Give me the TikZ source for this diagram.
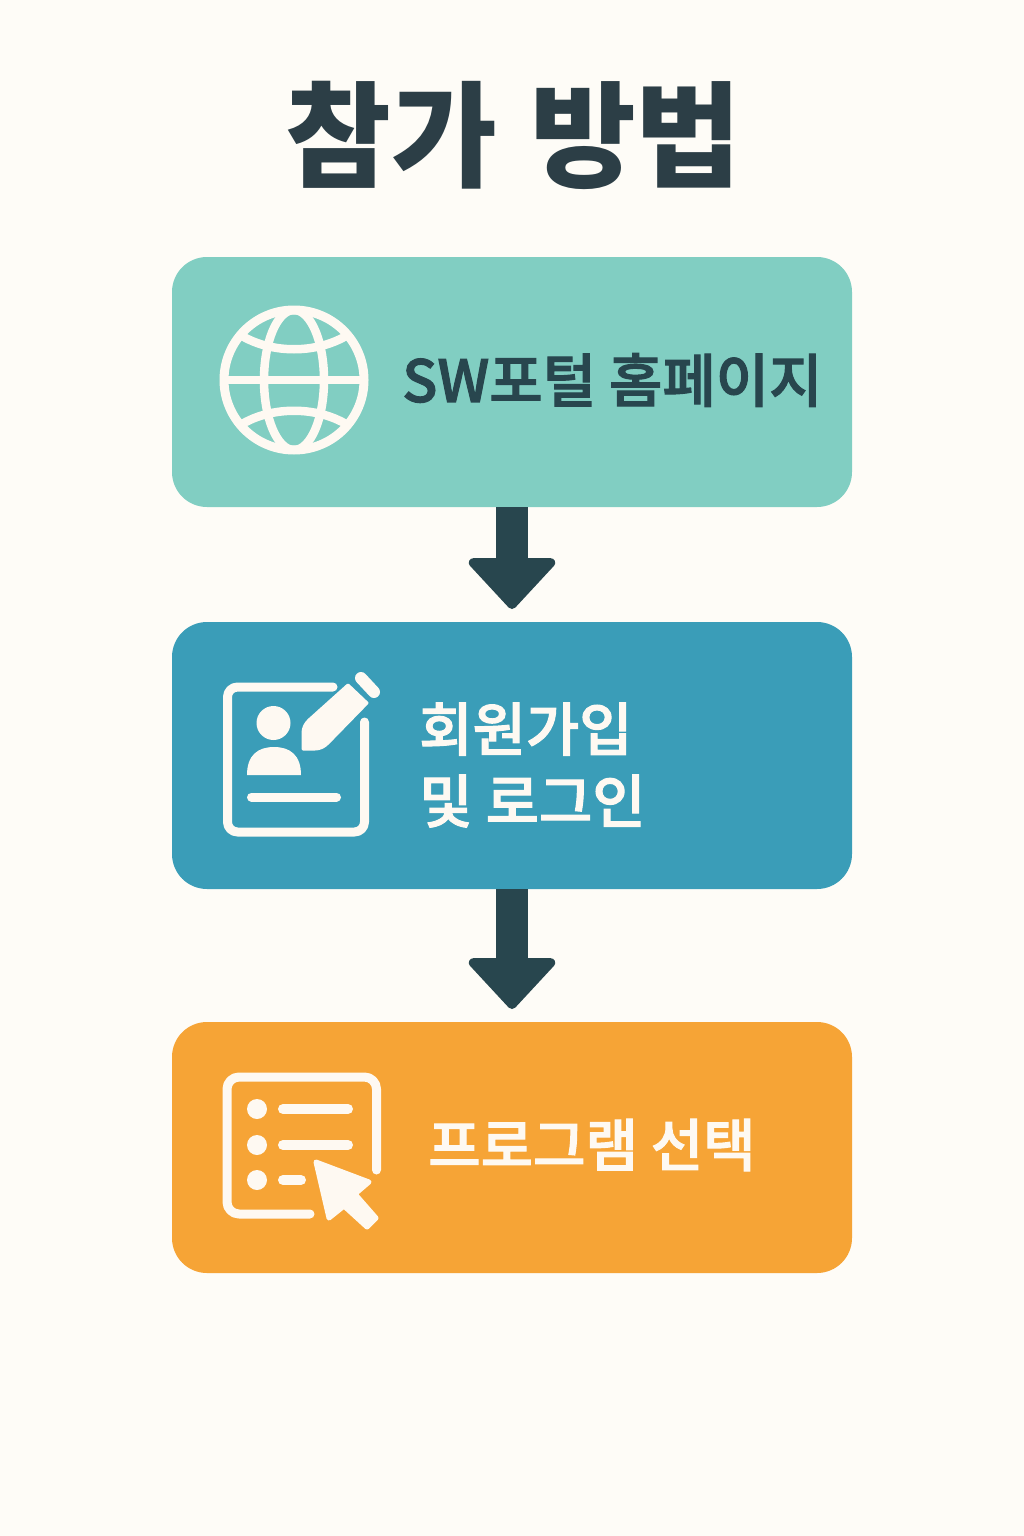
\documentclass[tikz,border=0pt]{standalone}
\usepackage{fontspec}
\usetikzlibrary{arrows.meta}
\newfontfamily\krfont{Noto Sans CJK KR}
\newfontfamily\krmed[FakeBold=1.8]{Noto Sans CJK KR Medium}
\definecolor{bgc}{HTML}{FEFCF7}
\definecolor{tealc}{HTML}{81CEC2}
\definecolor{bluec}{HTML}{3A9DB8}
\definecolor{orangec}{HTML}{F6A436}
\definecolor{darkc}{HTML}{28464E}
\definecolor{titlec}{HTML}{2C3E46}
\definecolor{iconc}{HTML}{FEF9F2}
\tikzset{
  x=1pt,y=-1pt,
  panel/.style={rounded corners=35pt,minimum width=680pt,inner sep=0pt,outer sep=0pt,draw=none},
  label/.style={font=\krmed\fontsize{58}{70}\selectfont,inner sep=0pt,anchor=west,align=left},
  flow/.style={draw=darkc,line width=32pt,-{Triangle[width=96pt,length=53pt,line width=9pt,round,fill=darkc]},shorten >=13pt},
  ic/.style={draw=iconc,line width=9pt,line cap=round,line join=round},
  icf/.style={fill=iconc,draw=iconc,line width=3pt,line join=round},
}
\begin{document}
\begin{tikzpicture}
\useasboundingbox (0,0) rectangle (1024,1536);
\fill[bgc] (0,0) rectangle (1024,1536);
\node[inner sep=0pt,text=titlec,font=\krfont\bfseries\fontsize{115}{125}\selectfont] (title) at (513.5,135) {참가\hspace{7pt} 방법};
\node[panel,fill=tealc,minimum height=250pt] (b1) at (512,382) {};
\node[panel,fill=bluec,minimum height=267pt] (b2) at (512,755.5) {};
\node[panel,fill=orangec,minimum height=251pt] (b3) at (512,1147.5) {};
\draw[flow] (b1.south) -- (b2.north);
\draw[flow] (b2.south) -- (b3.north);
% globe
\begin{scope}
\clip (294,380) circle (72);
\draw[ic,line width=8.5pt] (294,380) ellipse (30 and 70);
\draw[ic,line width=8.5pt] (220,380) -- (368,380);
\draw[ic,line width=8.5pt] (232,329) .. controls (265,356) and (323,356) .. (356,329);
\draw[ic,line width=8.5pt] (232,431) .. controls (265,404) and (323,404) .. (356,431);
\end{scope}
\draw[ic] (294,380) circle (70);
\node[label,text=darkc] (t1) at (402,380) {SW포털 홈페이지};
% form icon
\draw[ic,rounded corners=10pt] (333,687) -- (227.5,687) -- (227.5,832) -- (364.5,832) -- (364.5,722);
\fill[iconc] (273.5,723) circle (17);
\fill[iconc] (247,775) .. controls (247,755) and (258,747) .. (274,747) .. controls (290,747) and (301,755) .. (301,775) -- cycle;
\draw[ic] (251.5,797) -- (336.5,797);
\fill[icf] (348,685) -- (367,703) -- (328,743) .. controls (324,747) and (320,749) .. (315,749) -- (303,749) -- (303,733) .. controls (303,728) and (305,724) .. (309,720) -- cycle;
\draw[ic,line width=12pt] (361,678) -- (374,692);
\node[label,text=iconc] (t2) at (419,765) {회원가입\\[2pt]및 로그인};
% list icon
\draw[ic,rounded corners=12pt] (376.5,1170) -- (376.5,1077) -- (227,1077) -- (227,1214) -- (310,1214);
\fill[iconc] (257,1109) circle (10);
\fill[iconc] (257,1145) circle (10);
\fill[iconc] (257,1180) circle (10);
\draw[ic,line width=10pt] (283,1109) -- (348,1109);
\draw[ic,line width=10pt] (283,1145) -- (348,1145);
\draw[ic,line width=10pt] (283,1180) -- (301,1180);
\fill[icf,line width=5pt] (316,1162) -- (369,1182) -- (355,1194) -- (376,1218) -- (367,1227) -- (344,1206) -- (329,1218) -- cycle;
\node[label,text=iconc,font=\krmed\fontsize{57}{70}\selectfont] (t3) at (428,1145) {프로그램 선택};
\end{tikzpicture}
\end{document}
